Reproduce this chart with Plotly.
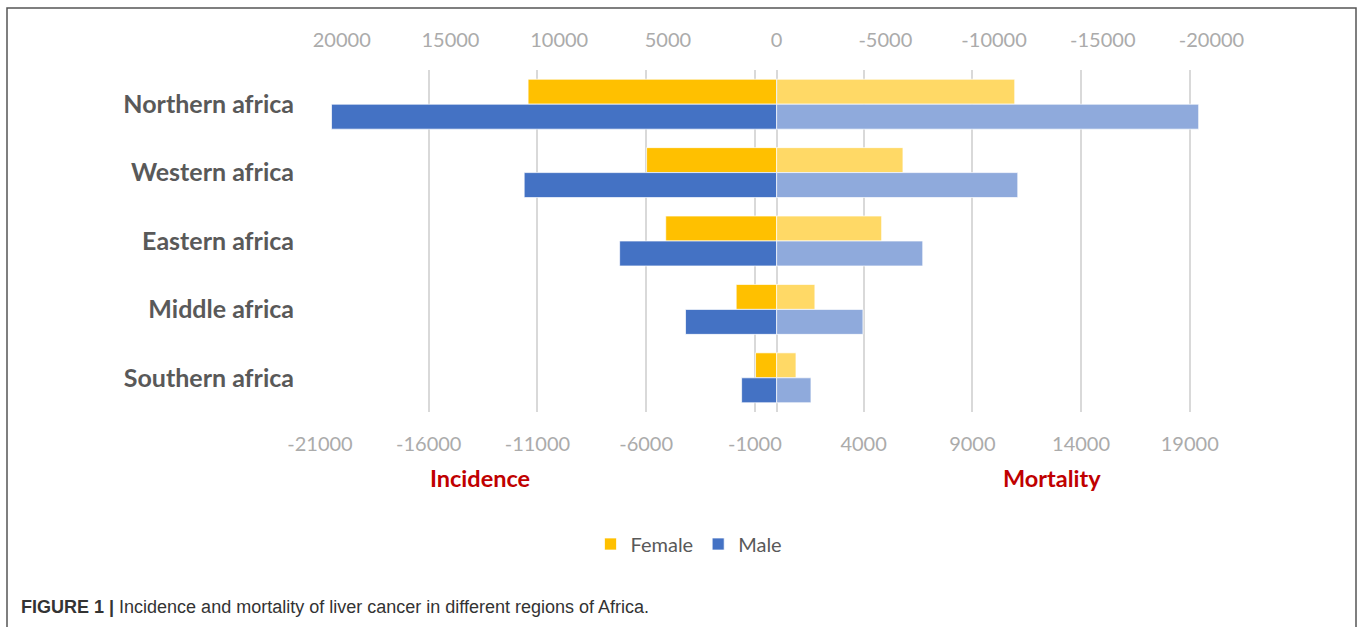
import plotly.graph_objects as go

# Liver cancer cases by African region (incidence shown to the left, mortality to the right)
regions = ["Northern africa", "Western africa", "Eastern africa", "Middle africa", "Southern africa"]
incidence_female = [11430, 5980, 5100, 1860, 970]
incidence_male = [20470, 11610, 7220, 4190, 1610]
mortality_female = [10950, 5810, 4830, 1760, 890]
mortality_male = [19410, 11090, 6720, 3970, 1580]

# Axis ticks: bottom axis shows raw values, top axis shows mirrored values
bottom_ticks = [-21000, -16000, -11000, -6000, -1000, 4000, 9000, 14000, 19000]
top_ticks = [-20000, -15000, -10000, -5000, 0, 5000, 10000, 15000, 20000]
top_labels = [str(-v) for v in top_ticks]

FEMALE = "#FFC000"
MALE = "#4472C4"
FEMALE_LIGHT = "#FFD966"
MALE_LIGHT = "#8FAADC"
EDGE = "rgba(255,255,255,0.7)"

fig = go.Figure()

fig.add_trace(go.Bar(
    y=regions, x=[-v for v in incidence_female], orientation="h", name="Female",
    marker=dict(color=FEMALE, line=dict(color=EDGE, width=1)),
    offsetgroup="f", legendgroup="f",
))
fig.add_trace(go.Bar(
    y=regions, x=[-v for v in incidence_male], orientation="h", name="Male",
    marker=dict(color=MALE, line=dict(color=EDGE, width=1)),
    offsetgroup="m", legendgroup="m",
))
fig.add_trace(go.Bar(
    y=regions, x=mortality_female, orientation="h", name="Female",
    marker=dict(color=FEMALE_LIGHT, line=dict(color=EDGE, width=1)),
    offsetgroup="f", legendgroup="f", showlegend=False,
))
fig.add_trace(go.Bar(
    y=regions, x=mortality_male, orientation="h", name="Male",
    marker=dict(color=MALE_LIGHT, line=dict(color=EDGE, width=1)),
    offsetgroup="m", legendgroup="m", showlegend=False,
))
# invisible trace to activate the mirrored top axis
fig.add_trace(go.Bar(
    y=[regions[0]], x=[0], orientation="h", xaxis="x2", showlegend=False,
    marker=dict(color="rgba(0,0,0,0)"), hoverinfo="skip",
))

TICK_FONT = dict(family="Lato, Calibri, sans-serif", size=20, color="#ABABAB")
XRANGE = [-21000, 22000]

W, H = 1358, 627
L, R, T, B = 320, 103, 70, 215
pw = W - L - R
ph = H - T - B


def px_x(px):
    return (px - L) / pw


def px_y(py):
    return (H - B - py) / ph


fig.update_layout(
    width=W, height=H,
    margin=dict(l=L, r=R, t=T, b=B, pad=0),
    paper_bgcolor="white", plot_bgcolor="white",
    barmode="group", bargap=0.27, bargroupgap=0,
    font=dict(family="Lato, Calibri, sans-serif"),
    xaxis=dict(
        range=XRANGE, tickvals=bottom_ticks, ticktext=[str(v) for v in bottom_ticks],
        showgrid=True, gridcolor="#D9D9D9", gridwidth=1.5,
        zeroline=True, zerolinecolor="#D9D9D9", zerolinewidth=1.5,
        showline=False, ticks="", tickfont=TICK_FONT, ticklabelstandoff=18,
        fixedrange=True,
    ),
    xaxis2=dict(
        range=XRANGE, overlaying="x", side="top", matches="x",
        tickvals=top_ticks, ticktext=top_labels,
        showgrid=False, zeroline=False, showline=False, ticks="",
        tickfont=TICK_FONT, ticklabelstandoff=18,
    ),
    yaxis=dict(
        autorange="reversed", showgrid=False, showline=False, ticks="",
        tickfont=dict(family="Lato, Calibri, sans-serif", size=25, color="#595959", weight="bold"),
        ticklabelstandoff=25,
    ),
    legend=dict(
        orientation="h", xanchor="center", x=px_x(689), yanchor="middle", y=px_y(544),
        font=dict(family="Lato, Calibri, sans-serif", size=20, color="#595959"),
        itemwidth=30, traceorder="normal", bgcolor="rgba(0,0,0,0)",
    ),
    annotations=[
        dict(text="<b>Incidence</b>", x=px_x(480), y=px_y(478), xref="paper", yref="paper",
             showarrow=False, xanchor="center", yanchor="middle",
             font=dict(family="Lato, Calibri, sans-serif", size=23.5, color="#C00000")),
        dict(text="<b>Mortality</b>", x=px_x(1052), y=px_y(478), xref="paper", yref="paper",
             showarrow=False, xanchor="center", yanchor="middle",
             font=dict(family="Lato, Calibri, sans-serif", size=23.5, color="#C00000")),
        dict(text="<b>FIGURE 1 |</b> Incidence and mortality of liver cancer in different regions of Africa.",
             x=px_x(19), y=px_y(607), xref="paper", yref="paper",
             showarrow=False, xanchor="left", yanchor="middle",
             font=dict(family="Liberation Sans Narrow, Liberation Sans, Arial, sans-serif", size=18, color="#333333")),
    ],
    shapes=[
        dict(type="rect", xref="paper", yref="paper",
             x0=px_x(7), x1=px_x(1356), y0=px_y(660), y1=px_y(8),
             line=dict(color="#555555", width=1.5), fillcolor="rgba(0,0,0,0)", layer="below"),
    ],
)

fig.write_html("out.html")
